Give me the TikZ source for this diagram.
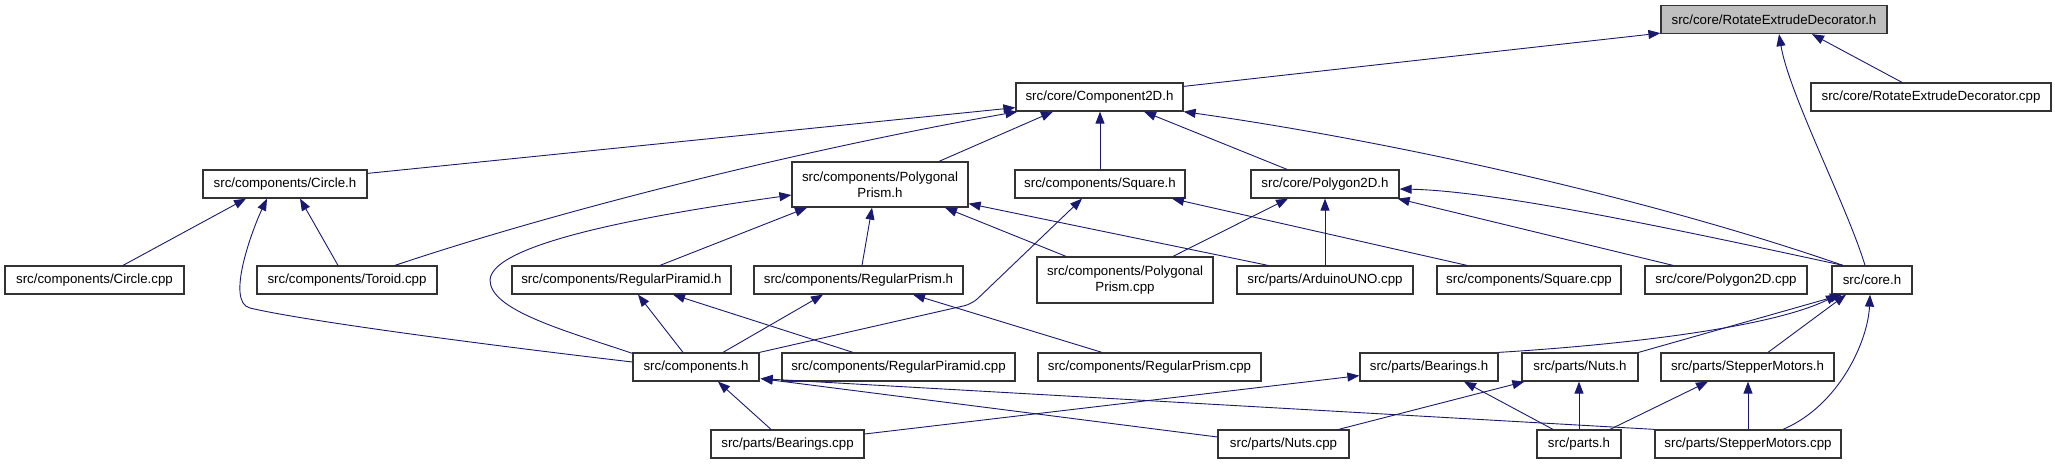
\documentclass[tikz,border=0pt]{standalone}
\usepackage{fontspec}
\setmainfont{Liberation Sans}
\usetikzlibrary{arrows.meta,calc}
\definecolor{edgeblue}{HTML}{191970}
\newcommand{\nodefont}{\fontsize{13.3}{16.5}\selectfont}
\begin{document}
\begin{tikzpicture}[x=1pt,y=-1pt,
  box/.style={draw=black!80, line width=1.25pt, fill=white, inner sep=0pt, minimum height=28pt, font=\nodefont, align=center},
  edge/.style={draw=edgeblue, line width=0.9pt, -{Triangle[length=12pt,width=9pt]}, edgeblue}]
\useasboundingbox (0,0) rectangle (2055,464);
% row 0
\node[box, minimum width=226pt, fill=black!25] (red) at (1774,19.5) {src/core/RotateExtrudeDecorator.h};
% row 1
\node[box, minimum width=167pt] (comp2d) at (1099.5,97) {src/core/Component2D.h};
\node[box, minimum width=240pt] (redcpp) at (1931,97) {src/core/RotateExtrudeDecorator.cpp};
% row 2
\node[box, minimum width=164pt] (circh) at (285,184) {src/components/Circle.h};
\node[box, minimum width=176pt, minimum height=45pt] (polyh) at (880,184.5) {src/components/Polygonal\\Prism.h};
\node[box, minimum width=170pt] (squareh) at (1100,184) {src/components/Square.h};
\node[box, minimum width=148pt] (poly2dh) at (1325,184) {src/core/Polygon2D.h};
% row 3
\node[box, minimum width=179pt] (circcpp) at (94.5,280) {src/components/Circle.cpp};
\node[box, minimum width=180pt] (toroid) at (347,280) {src/components/Toroid.cpp};
\node[box, minimum width=219pt] (regpirh) at (621.5,280) {src/components/RegularPiramid.h};
\node[box, minimum width=209pt] (regprismh) at (858.5,280) {src/components/RegularPrism.h};
\node[box, minimum width=176pt, minimum height=46pt] (polycpp) at (1125,280) {src/components/Polygonal\\Prism.cpp};
\node[box, minimum width=176pt] (arduino) at (1325,280) {src/parts/ArduinoUNO.cpp};
\node[box, minimum width=184pt] (squarecpp) at (1529,280) {src/components/Square.cpp};
\node[box, minimum width=162pt] (poly2dcpp) at (1726,280) {src/core/Polygon2D.cpp};
\node[box, minimum width=80pt] (coreh) at (1872,280) {src/core.h};
% row 4
\node[box, minimum width=126pt] (comph) at (696,367) {src/components.h};
\node[box, minimum width=233pt] (regpircpp) at (898.5,367) {src/components/RegularPiramid.cpp};
\node[box, minimum width=223pt] (regprismcpp) at (1149.5,367) {src/components/RegularPrism.cpp};
\node[box, minimum width=138pt] (bearh) at (1429,367) {src/parts/Bearings.h};
\node[box, minimum width=116pt] (nutsh) at (1580,367) {src/parts/Nuts.h};
\node[box, minimum width=173pt] (steph) at (1747.5,367) {src/parts/StepperMotors.h};
% row 5
\node[box, minimum width=153pt] (bearcpp) at (787.5,444) {src/parts/Bearings.cpp};
\node[box, minimum width=131pt] (nutscpp) at (1283.5,444) {src/parts/Nuts.cpp};
\node[box, minimum width=84pt] (partsh) at (1579,444) {src/parts.h};
\node[box, minimum width=186pt] (stepcpp) at (1748,444) {src/parts/StepperMotors.cpp};
% edges into RotateExtrudeDecorator.h
\draw[edge] ($(comp2d.north east)+(0,4)$) -- ($(red.south west)+(0,-1)$);
\draw[edge] ($(redcpp.north)+(-29,0)$) -- ($(red.south)+(38,0)$);
\draw[edge] ($(coreh.north)+(-7,0)$) .. controls (1847,206) and (1789,94) .. ($(red.south)+(5,0)$);
% edges into Component2D.h
\draw[edge] ($(circh.north east)+(0,4)$) -- ($(comp2d.south west)+(0,-4)$);
\draw[edge] ($(toroid.north)+(48,0)$) .. controls (560,210) and (800,150) .. ($(comp2d.south west)+(2,0)$);
\draw[edge] ($(polyh.north)+(59,0)$) -- ($(comp2d.south)+(-46.5,0)$);
\draw[edge] (squareh.north) -- (squareh.north |- comp2d.south);
\draw[edge] ($(poly2dh.north)+(-38,0)$) -- ($(comp2d.south)+(44.5,0)$);
\draw[edge] ($(coreh.north)+(-29,0)$) .. controls (1643,196) and (1384,140) .. (comp2d.south east);
% edges into Circle.h
\draw[edge] ($(comph.west)+(0,-5)$) .. controls (470,343) and (300,320) .. (250,308) .. controls (225,302) and (253,228) .. ($(circh.south)+(-18,0)$);
\draw[edge] ($(circcpp.north)+(28.5,0)$) -- ($(circh.south)+(-39,0)$);
\draw[edge] ($(toroid.north)+(-9,0)$) -- ($(circh.south)+(15,0)$);
% edges into PolygonalPrism.h
\draw[edge] ($(comph.north west)+(0,1)$) .. controls (563,330) and (490,310) .. (490,280) .. controls (492,240) and (678,211) .. ($(polyh.west)+(0,10.5)$);
\draw[edge] ($(regpirh.north)+(38.5,0)$) -- ($(polyh.south)+(-73,0)$);
\draw[edge] ($(regprismh.north)+(3.5,0)$) -- ($(polyh.south)+(-8,0)$);
\draw[edge] ($(polycpp.north)+(-59,0)$) -- ($(polyh.south)+(65,0)$);
\draw[edge] ($(arduino.north)+(-57,0)$) -- ($(polyh.south east)+(0,-4)$);
% edges into Square.h
\draw[edge, rounded corners=8pt] (comph.north east) -- (972,304) -- ($(squareh.south)+(-18,0)$);
\draw[edge] ($(squarecpp.north)+(-62,0)$) -- ($(squareh.south)+(72,0)$);
% edges into Polygon2D.h
\draw[edge] ($(polycpp.north)+(48,0)$) -- ($(poly2dh.south)+(-37,0)$);
\draw[edge] (arduino.north) -- (poly2dh.south);
\draw[edge] ($(poly2dcpp.north)+(-53,0)$) -- ($(poly2dh.south east)+(-2,0)$);
\draw[edge] ($(coreh.north)+(-29,0)$) .. controls (1693,233) and (1499,191) .. ($(poly2dh.east)+(0,5)$);
% edges into RegularPiramid.h / RegularPrism.h
\draw[edge] ($(comph.north)+(-13,0)$) -- ($(regpirh.south)+(16.5,0)$);
\draw[edge] ($(regpircpp.north)+(-45.5,0)$) -- ($(regpirh.south)+(51.5,0)$);
\draw[edge] ($(comph.north)+(27,0)$) -- ($(regprismh.south)+(-35.5,0)$);
\draw[edge] ($(regprismcpp.north)+(-47.5,0)$) -- ($(regprismh.south)+(54.5,0)$);
% edges into core.h
\draw[edge] (bearh.north east) .. controls (1620,345) and (1770,328) .. ($(coreh.south)+(-34,0)$);
\draw[edge] (nutsh.north east) -- ($(coreh.south)+(-30,0)$);
\draw[edge] ($(steph.north)+(20.5,0)$) -- ($(coreh.south)+(-26,0)$);
\draw[edge] ($(stepcpp.north)+(35,0)$) .. controls (1840,405) and (1868,340) .. ($(coreh.south)+(-2,0)$);
% edges into components.h
\draw[edge] ($(bearcpp.north)+(-16.5,0)$) -- ($(comph.south)+(22,0)$);
\draw[edge] ($(nutscpp.west)+(0,-7)$) -- ($(comph.south east)+(1,-3)$);
\draw[edge] (stepcpp.north west) -- ($(comph.south east)+(1,-3)$);
% edges into parts headers
\draw[edge] ($(bearcpp.east)+(0,-10)$) -- ($(bearh.south west)+(0,-6)$);
\draw[edge] ($(nutscpp.north east)+(-11,0)$) -- ($(nutsh.south west)+(3,0)$);
\draw[edge] ($(partsh.north)+(-26,0)$) -- ($(bearh.south)+(35,0)$);
\draw[edge] (partsh.north) -- (partsh.north |- nutsh.south);
\draw[edge] ($(partsh.north)+(31,0)$) -- ($(steph.south)+(-39.5,0)$);
\draw[edge] (stepcpp.north) -- (stepcpp.north |- steph.south);
\end{tikzpicture}
\end{document}
